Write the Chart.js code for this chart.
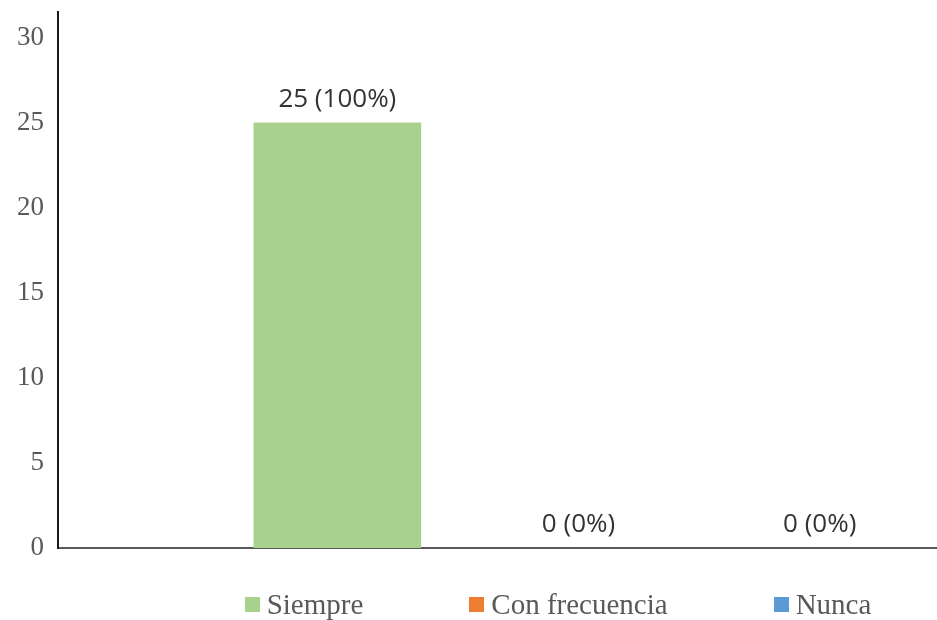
<!DOCTYPE html>
<html>
<head>
<meta charset="utf-8">
<script src="https://cdn.jsdelivr.net/npm/chart.js@4/dist/chart.umd.min.js"></script>
<style>
  html, body { margin: 0; padding: 0; background: #fff; overflow: hidden; }
  #wrap { position: relative; width: 937px; height: 620px; overflow: hidden; }
  #box { position: absolute; left: 0; top: 0; width: 1116px; height: 620px; }
  #legend { position: absolute; left: 0; top: 588px; width: 1116px; display: flex; justify-content: center; gap: 106px; }
  .item { display: flex; align-items: center; font: 29px "Liberation Serif", "Times New Roman", serif; color: #595959; line-height: 32px; }
  .swatch { width: 15px; height: 15px; margin-right: 7px; }
</style>
</head>
<body>
<div id="wrap">
  <div id="box"><canvas id="myChart"></canvas></div>
  <div id="legend"></div>
</div>
<script>
'use strict';
const categories = [''];
const series = ['Siempre', 'Con frecuencia', 'Nunca'];
const values = [25, 0, 0];
const percents = [100, 0, 0];
const colors = ['#A9D18E', '#ED7D31', '#5B9BD5'];
const yTicks = [0, 5, 10, 15, 20, 25, 30];

// value labels above each bar, e.g. "25 (100%)"
const valueLabels = {
  id: 'valueLabels',
  afterDatasetsDraw(chart) {
    const ctx = chart.ctx;
    chart.data.datasets.forEach((ds, i) => {
      const meta = chart.getDatasetMeta(i);
      meta.data.forEach((bar) => {
        ctx.save();
        ctx.font = '26px "Open Sans", sans-serif';
        ctx.fillStyle = '#333333';
        ctx.textAlign = 'center';
        ctx.textBaseline = 'middle';
        ctx.fillText(values[i] + ' (' + percents[i] + '%)', bar.x, bar.y - 23);
        ctx.restore();
      });
    });
  }
};

const datasets = [];
for (let i = 0; i < series.length; i++) {
  datasets.push({
    label: series[i],
    data: [values[i]],
    backgroundColor: colors[i],
    borderWidth: 0,
    categoryPercentage: 0.695,
    barPercentage: 0.695
  });
}

const ctx = document.getElementById('myChart').getContext('2d');
const chart = new Chart(ctx, {
  type: 'bar',
  data: { labels: categories, datasets: datasets },
  options: {
    responsive: true,
    maintainAspectRatio: false,
    animation: false,
    layout: { padding: { left: 3, right: 17, top: 12, bottom: 72 } },
    plugins: { legend: { display: false }, tooltip: { enabled: false } },
    scales: {
      x: {
        grid: { display: false, drawTicks: false },
        border: { display: true, color: '#595959', width: 2 },
        ticks: { display: false }
      },
      y: {
        min: 0,
        max: 31.5,
        afterBuildTicks(axis) { axis.ticks = yTicks.map(v => ({ value: v })); },
        afterFit(axis) { axis.paddingTop = 0; axis.paddingBottom = 0; },
        grid: { display: false, drawTicks: false },
        border: { display: true, color: '#1a1a1a', width: 2 },
        ticks: {
          padding: 14,
          color: '#595959',
          font: { family: '"Liberation Serif", "Times New Roman", serif', size: 27, lineHeight: 1 }
        }
      }
    }
  },
  plugins: [valueLabels]
});

// legend below the plot
const legendEl = document.getElementById('legend');
for (let i = 0; i < series.length; i++) {
  const item = document.createElement('div');
  item.className = 'item';
  const sw = document.createElement('span');
  sw.className = 'swatch';
  sw.style.background = colors[i];
  const tx = document.createElement('span');
  tx.textContent = series[i];
  item.appendChild(sw);
  item.appendChild(tx);
  legendEl.appendChild(item);
}
</script>
</body>
</html>
